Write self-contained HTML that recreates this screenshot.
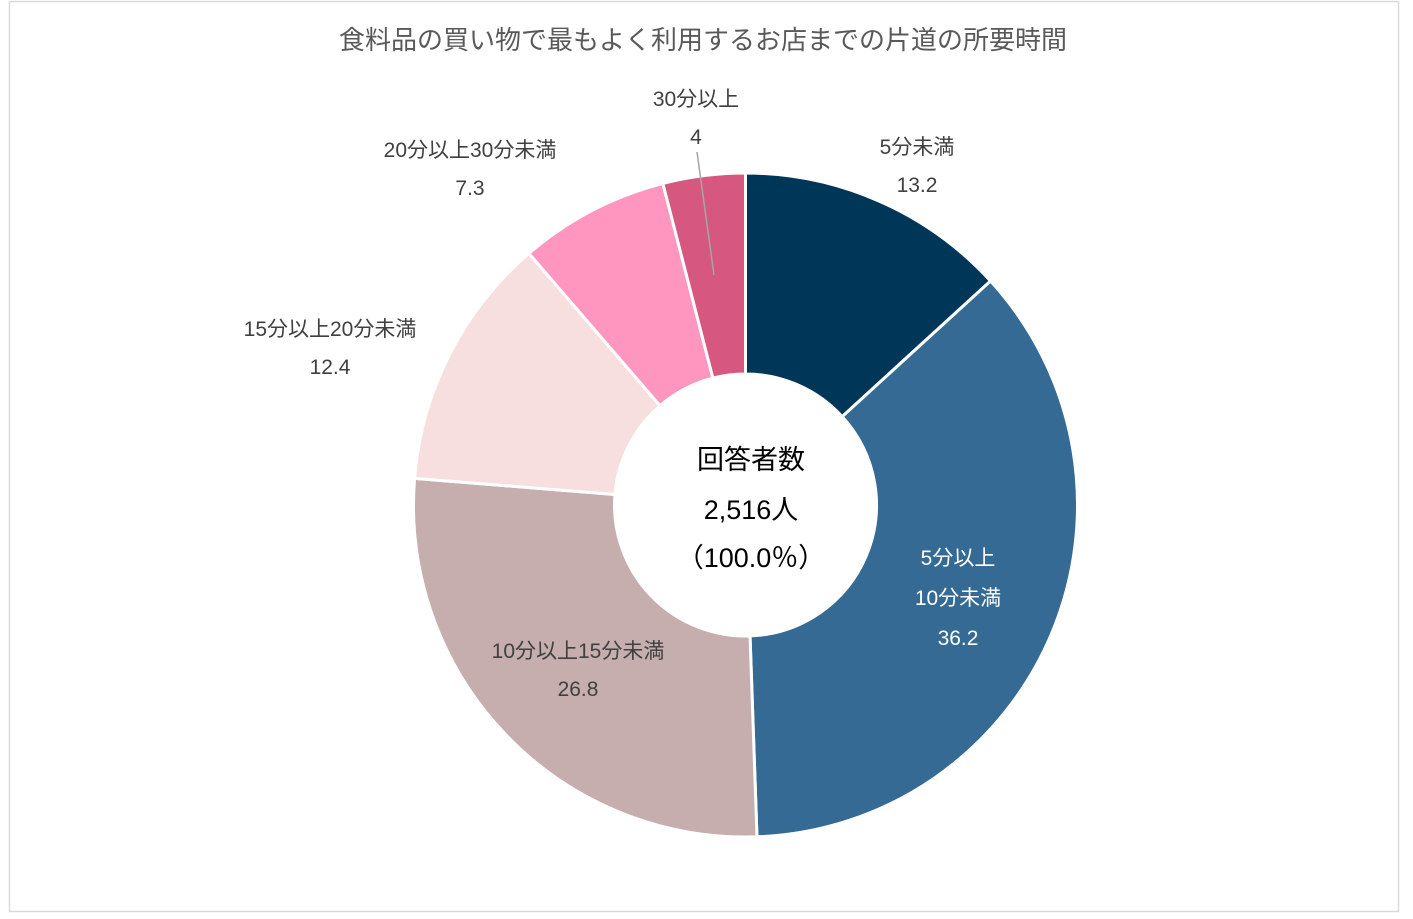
<!DOCTYPE html>
<html><head><meta charset="utf-8">
<style>
html,body{margin:0;padding:0;background:#fff;}
body{width:1413px;height:914px;overflow:hidden;font-family:"Liberation Sans","Noto Sans CJK JP",sans-serif;}
</style></head>
<body>
<svg width="1413" height="914" xmlns="http://www.w3.org/2000/svg" style="font-family:'Liberation Sans','Noto Sans CJK JP',sans-serif">
<rect x="9.5" y="1.5" width="1389" height="910" fill="#fff" stroke="#d9d9d9" stroke-width="1.5"/>
<text x="703" y="49" text-anchor="middle" font-size="26" fill="#595959">食料品の買い物で最もよく利用するお店までの片道の所要時間</text>
<g id="slices"></g>
<line x1="697" y1="152" x2="714" y2="275" stroke="#a6a6a6" stroke-width="1.5"/>
<g id="labels" font-size="21" text-anchor="middle"></g>
<g font-size="27" fill="#000" text-anchor="middle">
<text x="751" y="469">回答者数</text>
<text x="751" y="519">2,516人</text>
<text x="751" y="567">（100.0％）</text>
</g>
</svg>
<script>
const categories=["5分未満","5分以上10分未満","10分以上15分未満","15分以上20分未満","20分以上30分未満","30分以上"];
const values=[13.2,36.2,26.8,12.4,7.3,4];
const colors=["#003658","#346a93","#c5aead","#f7dfdf","#ff96bf","#d6577f"];
const labelLines=[["5分未満"],["5分以上","10分未満"],["10分以上15分未満"],["15分以上20分未満"],["20分以上30分未満"],["30分以上"]];
const labelPos=[[917,147],[958,558],[578,651],[330,329],[470,150],[696,99]];
const labelFill=["#404040","#ffffff","#404040","#404040","#404040","#404040"];
const cx=745.5,cy=505,R=332,r=131;
const NS="http://www.w3.org/2000/svg";
const total=values.reduce((a,b)=>a+b,0);
function pt(a,rad){return [cx+rad*Math.sin(a),cy-rad*Math.cos(a)];}
let ang=0;
const g=document.getElementById('slices');
values.forEach((v,i)=>{
  const a0=ang,a1=ang+v/total*2*Math.PI;ang=a1;
  const large=(a1-a0)>Math.PI?1:0;
  const p0=pt(a0,R),p1=pt(a1,R),q1=pt(a1,r),q0=pt(a0,r);
  const d=`M${p0[0]},${p0[1]}A${R},${R} 0 ${large} 1 ${p1[0]},${p1[1]}L${q1[0]},${q1[1]}A${r},${r} 0 ${large} 0 ${q0[0]},${q0[1]}Z`;
  const p=document.createElementNS(NS,'path');
  p.setAttribute('d',d);p.setAttribute('fill',colors[i]);p.setAttribute('stroke','#fff');p.setAttribute('stroke-width','3');
  
  
  g.appendChild(p);
});
const lg=document.getElementById('labels');
categories.forEach((c,i)=>{
  const t=document.createElementNS(NS,'text');
  
  
  t.setAttribute('fill',labelFill[i]);
  const lines=labelLines[i].concat([String(values[i])]);
  lines.forEach((s,k)=>{
    const ts=document.createElementNS(NS,'tspan');
    ts.setAttribute('x',labelPos[i][0]);
    ts.setAttribute('y',labelPos[i][1]+7+k*(lines.length===3?40:38));
    ts.textContent=s;t.appendChild(ts);
  });
  lg.appendChild(t);
});
</script>
</body></html>
